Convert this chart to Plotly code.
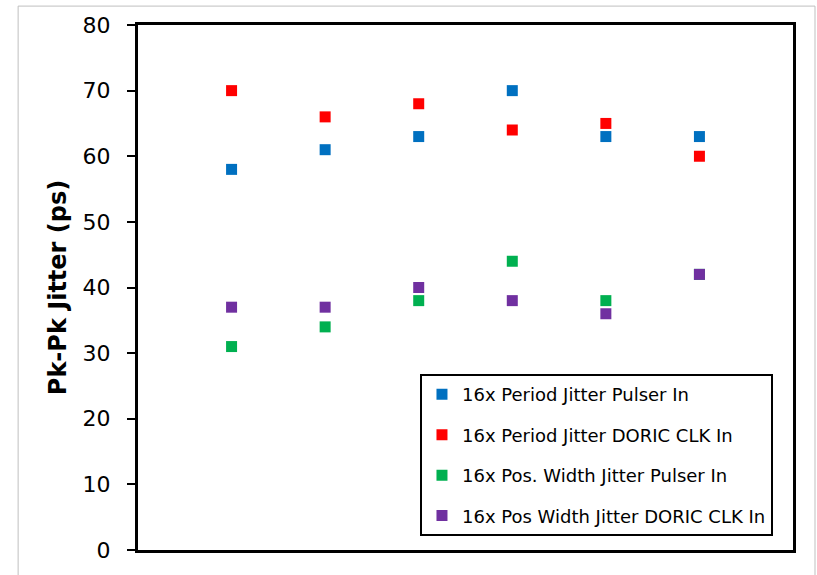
import plotly.graph_objects as go

categories = [1, 2, 3, 4, 5, 6]
period_pulser = [58, 61, 63, 70, 63, 63]
period_doric = [70, 66, 68, 64, 65, 60]
width_pulser = [31, 34, 38, 44, 38, 42]
width_doric = [37, 37, 40, 38, 36, 42]
names = ["16x Period Jitter Pulser In", "16x Period Jitter DORIC CLK In",
         "16x Pos. Width Jitter Pulser In", "16x Pos Width Jitter DORIC CLK In"]
colors = ["#0070C0", "#FF0000", "#00B050", "#7030A0"]
series = [period_pulser, period_doric, width_pulser, width_doric]

fig = go.Figure()
for i, (nm, col, vals) in enumerate(zip(names, colors, series)):
    fig.add_trace(go.Scatter(
        x=categories, y=vals, mode="markers", name=nm,
        legendgroup=f"g{i}",
        marker=dict(symbol="square", size=11, color=col, line=dict(width=0)),
    ))

fig.update_layout(
    width=817, height=575,
    margin=dict(l=138, r=24, t=25, b=25),
    paper_bgcolor="white", plot_bgcolor="white",
    font=dict(family="DejaVu Sans, Verdana, sans-serif", color="black"),
    showlegend=True,
    legend=dict(
        x=0.4305, y=0.335, xanchor="left", yanchor="top",
        bordercolor="black", borderwidth=2, bgcolor="white",
        font=dict(size=18, family="DejaVu Sans, Verdana, sans-serif"),
        traceorder="grouped", tracegroupgap=14,
        itemwidth=30,
    ),
    shapes=[dict(type="rect", xref="paper", yref="paper",
                 x0=-0.183, x1=1.0336, y0=-0.06, y1=1.036,
                 line=dict(color="#BFBFBF", width=1), layer="below")],
)
fig.update_xaxes(range=[0, 7], showline=True, linecolor="black", linewidth=3,
                 mirror=True, showticklabels=False, ticks="", showgrid=False,
                 zeroline=False)
fig.update_yaxes(range=[0, 80], dtick=10, showline=True, linecolor="black",
                 linewidth=3, mirror=True, ticks="outside", ticklen=8,
                 tickwidth=2, tickcolor="black", showgrid=False, zeroline=False,
                 tickfont=dict(size=22), ticklabelstandoff=12,
                 title=dict(text="<b>Pk-Pk Jitter (ps)</b>", font=dict(size=24),
                            standoff=10))

fig.write_html("out.html")
